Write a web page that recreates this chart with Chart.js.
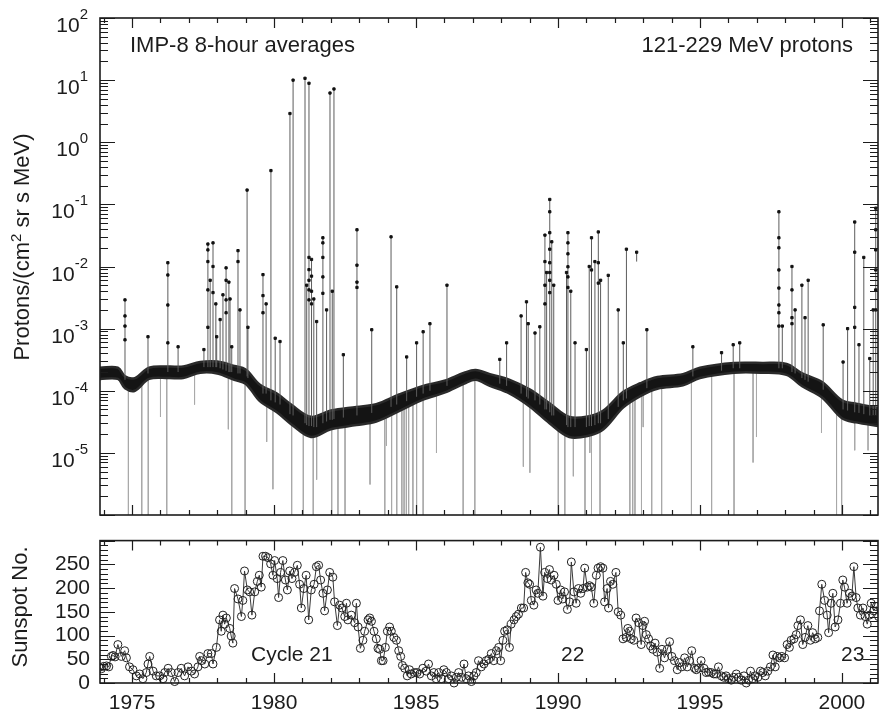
<!DOCTYPE html>
<html>
<head>
<meta charset="utf-8">
<title>IMP-8 121-229 MeV protons and sunspot number</title>
<script src="https://cdn.jsdelivr.net/npm/chart.js@4.4.1/dist/chart.umd.min.js"></script>
<style>
  html, body { margin: 0; padding: 0; background: #fff; }
  #wrap { position: relative; width: 883px; height: 714px; overflow: hidden; }
  canvas { position: absolute; left: 0; }
  #flux { top: 0; }
  #spots { top: 518px; }
</style>
</head>
<body>
<div id="wrap">
  <canvas id="flux" width="883" height="520"></canvas>
  <canvas id="spots" width="883" height="196"></canvas>
</div>
<script>
// shared time axis (decimal years)
const yearMin = 1973.87, yearMax = 2001.27;
const yearLabels = [1975, 1980, 1985, 1990, 1995, 2000];
const decadeLabels = [2, 1, 0, -1, -2, -3, -4, -5];
const sunspotLabels = [0, 50, 100, 150, 200, 250];

// quiet-time background band: [year, lower edge, upper edge]
const band = [
  [1973.87, 1.55e-4, 2.35e-4], [1974.5, 1.55e-4, 2.35e-4], [1974.75, 1.1e-4, 1.7e-4],
  [1975.1, 1.0e-4, 1.6e-4], [1975.6, 1.55e-4, 2.35e-4], [1976.3, 1.6e-4, 2.45e-4],
  [1976.8, 1.6e-4, 2.45e-4], [1977.4, 1.95e-4, 2.9e-4], [1978.0, 1.9e-4, 2.95e-4],
  [1978.6, 1.5e-4, 2.5e-4], [1979.0, 1.3e-4, 2.2e-4], [1979.5, 6.8e-5, 1.25e-4],
  [1980.1, 4.5e-5, 9e-5], [1980.6, 2.9e-5, 6e-5], [1981.3, 1.8e-5, 3.8e-5],
  [1982.0, 2.4e-5, 4.8e-5], [1982.9, 2.8e-5, 5.5e-5], [1983.6, 3.2e-5, 6.1e-5],
  [1984.4, 4.7e-5, 8.7e-5], [1985.25, 7.2e-5, 1.2e-4], [1986.0, 9.3e-5, 1.45e-4],
  [1986.7, 1.3e-4, 1.95e-4], [1987.1, 1.5e-4, 2.15e-4], [1987.6, 1.2e-4, 1.85e-4],
  [1988.3, 9e-5, 1.5e-4], [1989.0, 5.6e-5, 1.05e-4], [1989.7, 3e-5, 6.3e-5],
  [1990.4, 1.8e-5, 3.8e-5], [1991.1, 1.9e-5, 3.9e-5], [1991.6, 2.4e-5, 4.8e-5],
  [1992.3, 5.4e-5, 9.6e-5], [1992.9, 8.2e-5, 1.32e-4], [1993.5, 1.08e-4, 1.66e-4],
  [1994.4, 1.22e-4, 1.85e-4], [1995.0, 1.6e-4, 2.35e-4], [1996.2, 1.95e-4, 2.8e-4],
  [1997.2, 1.95e-4, 2.8e-4], [1998.05, 1.8e-4, 2.7e-4], [1998.6, 1.18e-4, 1.9e-4],
  [1999.3, 7.8e-5, 1.38e-4], [2000.0, 3.6e-5, 7e-5], [2000.5, 3.1e-5, 6.2e-5],
  [2001.27, 2.7e-5, 5.3e-5]
];

// solar particle events: [year, base, peak]
const events = [
  [1974.75, 1.5e-4, 2.9e-3], [1975.56, 1.9e-4, 7.4e-4], [1976.26, 2.0e-4, 1.15e-2],
  [1976.62, 2.0e-4, 5.1e-4], [1977.53, 2.4e-4, 4.6e-4], [1977.67, 2.4e-4, 2.3e-2],
  [1977.75, 2.4e-4, 6e-3], [1977.85, 2.4e-4, 2.4e-2], [1977.95, 2.4e-4, 2.5e-3],
  [1977.98, 2.4e-4, 7.4e-4], [1978.1, 2.3e-4, 1.4e-3], [1978.2, 2.2e-4, 3.5e-3],
  [1978.31, 2.1e-4, 9.5e-3], [1978.41, 2.0e-4, 5.6e-3], [1978.45, 2.0e-4, 3e-3],
  [1978.51, 2.0e-4, 5.1e-4], [1978.73, 1.9e-4, 1.8e-2], [1978.8, 1.9e-4, 2e-3],
  [1979.05, 1.7e-4, 1.7e-1], [1979.08, 1.6e-4, 1.05e-3], [1979.61, 9e-5, 7.4e-3],
  [1979.72, 9e-5, 2.5e-3], [1979.89, 7e-5, 3.5e-1], [1980.04, 6.5e-5, 7e-4],
  [1980.21, 6e-5, 6.2e-4], [1980.56, 4.2e-5, 2.9], [1980.67, 4e-5, 10],
  [1981.09, 3e-5, 10.7], [1981.15, 2.8e-5, 5e-3], [1981.23, 2.7e-5, 8.9],
  [1981.32, 2.7e-5, 1.3e-2], [1981.4, 2.6e-5, 3e-3], [1981.5, 2.6e-5, 1.3e-3],
  [1981.72, 3e-5, 2.9e-2], [1981.85, 3.2e-5, 2e-3], [1981.97, 3.4e-5, 6.2],
  [1982.05, 3.4e-5, 4e-3], [1982.11, 3.5e-5, 7.2], [1982.44, 3.7e-5, 3.8e-4],
  [1982.92, 4e-5, 3.9e-2], [1983.44, 4.4e-5, 9.6e-4], [1984.12, 5.5e-5, 3.0e-2],
  [1984.32, 6e-5, 4.7e-3], [1984.67, 6.8e-5, 3.5e-4], [1985.02, 8e-5, 5.9e-4],
  [1985.25, 9e-5, 8.9e-4], [1985.49, 1e-4, 1.2e-3], [1986.09, 1.2e-4, 5e-3],
  [1987.95, 1.3e-4, 3.2e-4], [1988.19, 1.2e-4, 5.9e-4], [1988.7, 9e-5, 1.6e-3],
  [1988.89, 8e-5, 2.7e-3], [1988.95, 7.5e-5, 1.2e-3], [1989.19, 7e-5, 8.5e-4],
  [1989.36, 6e-5, 1.07e-3], [1989.54, 5e-5, 3.2e-2], [1989.6, 5e-5, 8e-3],
  [1989.71, 4.5e-5, 1.2e-1], [1989.78, 4e-5, 2.5e-2], [1989.85, 4e-5, 5e-3],
  [1990.3, 2.8e-5, 8e-3], [1990.35, 2.6e-5, 3.5e-2], [1990.45, 2.6e-5, 4e-3],
  [1990.6, 2.6e-5, 5.9e-4], [1991.0, 2.6e-5, 4.6e-4], [1991.1, 2.7e-5, 1e-2],
  [1991.18, 2.7e-5, 2.9e-2], [1991.3, 2.8e-5, 1.2e-2], [1991.42, 3e-5, 3.6e-2],
  [1991.5, 3e-5, 6e-3], [1991.77, 3.5e-5, 7.2e-3], [1992.12, 5.5e-5, 2.0e-3],
  [1992.3, 7e-5, 5.9e-4], [1992.41, 7.5e-5, 1.9e-2], [1992.77, 1.2e-2, 1.7e-2],
  [1993.13, 1.1e-4, 9.6e-4], [1994.75, 1.7e-4, 5.1e-4], [1995.76, 2.1e-4, 4.1e-4],
  [1996.17, 2.3e-4, 5.5e-4], [1996.4, 2.3e-4, 5.9e-4], [1997.78, 2.3e-4, 7.6e-2],
  [1997.9, 2.3e-4, 1.1e-3], [1998.24, 2.0e-4, 1.0e-2], [1998.35, 1.9e-4, 2e-3],
  [1998.59, 1.6e-4, 5e-3], [1998.7, 1.5e-4, 1.5e-3], [1998.81, 1.4e-4, 6e-3],
  [1999.34, 1.04e-4, 1.15e-3], [2000.04, 5e-5, 2.9e-4], [2000.2, 4.8e-5, 1e-3],
  [2000.45, 4.5e-5, 5.2e-2], [2000.6, 4.4e-5, 5.5e-4], [2000.77, 4.2e-5, 1.4e-2],
  [2000.98, 4e-5, 3.3e-4], [2001.1, 4e-5, 2e-3], [2001.19, 4e-5, 8.7e-2]
];

// 8-hour points along the event profiles: [year, value]
const eventDots = [
  [1974.75, 1.6e-3], [1974.75, 1.1e-3], [1974.75, 6.6e-4],
  [1976.26, 7.3e-3], [1976.26, 2.4e-3], [1976.26, 5.9e-4],
  [1977.67, 1.85e-2], [1977.67, 1.2e-2], [1977.67, 4.2e-3], [1977.67, 1.05e-3],
  [1977.85, 1e-2], [1977.85, 3.8e-3],
  [1978.31, 6e-3], [1978.31, 2.9e-3], [1978.31, 1.8e-3], [1978.73, 1.2e-2],
  [1979.61, 3.4e-3], [1979.61, 1.8e-3],
  [1981.23, 1.4e-2], [1981.23, 8.9e-3], [1981.23, 6e-3], [1981.23, 4.2e-3], [1981.23, 2.9e-3],
  [1981.32, 7e-3], [1981.32, 4e-3], [1981.32, 2.5e-3],
  [1981.72, 2.4e-2], [1981.72, 1.4e-2], [1981.72, 6.8e-3], [1981.72, 3.7e-3],
  [1982.92, 1.05e-2], [1982.92, 5.6e-3], [1982.92, 4.6e-3],
  [1989.54, 1.2e-2], [1989.54, 5e-3], [1989.54, 2.5e-3],
  [1989.71, 7.6e-2], [1989.71, 3.5e-2], [1989.71, 1.9e-2], [1989.71, 1.15e-2],
  [1989.71, 8e-3], [1989.71, 6e-3], [1989.71, 3.8e-3],
  [1990.35, 2.4e-2], [1990.35, 1.6e-2], [1990.35, 9.9e-3], [1990.35, 6.8e-3], [1990.35, 4.6e-3],
  [1991.18, 8.8e-3], [1991.42, 1.15e-2], [1991.42, 5.4e-3],
  [1997.78, 2.9e-2], [1997.78, 2.0e-2], [1997.78, 8.8e-3], [1997.78, 4.5e-3],
  [1997.78, 2.4e-3], [1997.78, 1.8e-3], [1997.78, 1.1e-3],
  [1998.24, 4.2e-3], [1998.24, 1.5e-3], [1998.24, 1.2e-3],
  [2000.45, 1.7e-2], [2000.45, 2.2e-3], [2000.45, 1.05e-3],
  [2001.19, 3.9e-2], [2001.19, 1.85e-2], [2001.19, 8.8e-3], [2001.19, 4.2e-3], [2001.19, 2e-3]
];

// downward error bars: [year, top, bottom]
const lowBars = [
  [1974.87, 1.3e-4, 1e-6], [1975.34, 1.5e-4, 1e-6], [1975.57, 1.8e-4, 1e-6],
  [1976.0, 1.9e-4, 3.8e-5], [1976.22, 1.9e-4, 1e-6], [1977.2, 2.2e-4, 6e-5],
  [1978.39, 1.9e-4, 2.4e-5], [1978.51, 1.9e-4, 1e-6], [1978.98, 1.6e-4, 1e-6],
  [1979.74, 8e-5, 1.5e-5], [1979.96, 6.5e-5, 2.6e-6], [1980.62, 4e-5, 1e-6],
  [1981.03, 3e-5, 1e-6], [1981.38, 2.5e-5, 1e-6], [1981.5, 2.5e-5, 3.7e-6],
  [1982.03, 3.3e-5, 1e-6], [1982.25, 3.5e-5, 1e-6], [1982.5, 3.6e-5, 1e-6],
  [1983.38, 4.2e-5, 3.1e-6], [1983.9, 5e-5, 1e-6], [1983.96, 5e-5, 1.3e-5],
  [1984.14, 5.5e-5, 1e-6], [1984.32, 6e-5, 1e-6], [1984.5, 6.5e-5, 1e-6],
  [1984.58, 6.5e-5, 1e-6], [1984.66, 7e-5, 1e-6], [1984.74, 7e-5, 1e-6],
  [1984.89, 7.5e-5, 1e-6], [1985.02, 8e-5, 1e-6], [1985.25, 9e-5, 1e-6],
  [1985.72, 1.05e-4, 1e-5], [1986.66, 1.5e-4, 1e-6], [1987.07, 1.7e-4, 1e-6],
  [1988.78, 9e-5, 6e-6], [1989.01, 7.5e-5, 4.8e-6], [1990.01, 3.2e-5, 1e-6],
  [1990.24, 2.8e-5, 1e-6], [1990.54, 2.6e-5, 4.2e-6], [1990.95, 2.6e-5, 1e-6],
  [1991.12, 2.7e-5, 1e-5], [1991.18, 2.7e-5, 1e-6], [1991.48, 3e-5, 1e-6],
  [1992.53, 8e-5, 1e-6], [1992.63, 8.5e-5, 1e-6], [1992.71, 9e-5, 1e-6],
  [1992.94, 1e-4, 1e-6], [1993.0, 1e-4, 2.6e-5], [1993.3, 1.2e-4, 1e-6],
  [1993.65, 1.35e-4, 1e-6], [1994.7, 1.6e-4, 1e-6], [1995.41, 2e-4, 1e-6],
  [1996.2, 2.3e-4, 1e-6], [1996.87, 2.3e-4, 7e-6], [1996.99, 2.3e-4, 1.8e-5],
  [1999.28, 1.05e-4, 2.1e-5], [1999.81, 6e-5, 1e-6], [1999.99, 5e-5, 1e-6],
  [2000.45, 4.5e-5, 1.1e-5], [2000.92, 4e-5, 1.1e-5]
];

// monthly sunspot number: [year, value]
const sunspots = [
  [1973.85,33],[1973.92,30],[1974.0,35],[1974.1,36],[1974.18,34],[1974.27,56],[1974.33,58],
  [1974.4,55],[1974.5,81],[1974.62,56],[1974.74,68],[1974.8,53],[1974.91,34],[1975.03,28],
  [1975.15,15],[1975.27,19],[1975.38,9],[1975.5,22],[1975.56,40],[1975.62,56],[1975.74,25],
  [1975.85,15],[1975.97,15],[1976.09,9],[1976.15,22],[1976.27,31],[1976.38,22],[1976.5,3],
  [1976.62,22],[1976.73,31],[1976.85,15],[1976.97,34],[1977.09,25],[1977.2,19],[1977.32,34],
  [1977.38,56],[1977.44,47],[1977.56,40],[1977.67,62],[1977.79,62],[1977.85,40],[1977.97,75],
  [1978.08,133],[1978.14,109],[1978.2,143],[1978.26,124],[1978.32,137],[1978.44,115],[1978.49,99],
  [1978.55,84],[1978.61,199],[1978.73,177],[1978.85,140],[1978.9,174],[1978.96,236],[1979.06,196],
  [1979.14,192],[1979.22,143],[1979.32,192],[1979.41,214],[1979.48,227],[1979.55,202],[1979.61,267],
  [1979.7,267],[1979.79,264],[1979.88,251],[1979.96,227],[1980.02,258],[1980.11,220],[1980.16,180],
  [1980.23,233],[1980.31,258],[1980.4,217],[1980.47,196],[1980.55,236],[1980.63,220],[1980.72,233],
  [1980.82,248],[1980.9,208],[1980.96,158],[1981.05,199],[1981.13,227],[1981.22,133],[1981.31,196],
  [1981.41,208],[1981.49,245],[1981.57,248],[1981.64,217],[1981.72,189],[1981.78,152],[1981.88,196],
  [1981.96,233],[1982.07,223],[1982.13,171],[1982.23,121],[1982.31,164],[1982.39,158],[1982.49,140],
  [1982.55,168],[1982.6,133],[1982.72,143],[1982.84,127],[1982.9,168],[1982.96,118],[1983.04,73],
  [1983.13,90],[1983.19,109],[1983.31,133],[1983.37,137],[1983.43,130],[1983.52,109],[1983.6,93],
  [1983.66,73],[1983.72,71],[1983.78,47],[1983.84,47],[1983.92,75],[1983.99,109],[1984.07,118],
  [1984.13,109],[1984.22,96],[1984.31,90],[1984.39,68],[1984.46,56],[1984.52,37],[1984.6,31],
  [1984.69,15],[1984.77,28],[1984.83,19],[1984.95,22],[1985.04,22],[1985.13,19],[1985.24,31],
  [1985.36,25],[1985.44,40],[1985.54,15],[1985.63,22],[1985.71,9],[1985.8,22],[1985.89,9],
  [1985.98,28],[1986.07,22],[1986.15,9],[1986.24,15],[1986.34,0],[1986.42,12],[1986.5,22],
  [1986.6,12],[1986.69,40],[1986.77,9],[1986.85,15],[1986.95,3],[1987.04,15],[1987.12,22],
  [1987.2,47],[1987.3,34],[1987.39,40],[1987.47,47],[1987.56,50],[1987.65,62],[1987.74,47],
  [1987.83,68],[1987.91,75],[1987.98,47],[1988.06,90],[1988.12,109],[1988.21,112],[1988.29,75],
  [1988.35,124],[1988.45,133],[1988.53,140],[1988.61,145],[1988.71,158],[1988.79,158],[1988.86,233],
  [1988.94,211],[1989.0,208],[1989.06,174],[1989.15,164],[1989.23,196],[1989.29,189],[1989.38,286],
  [1989.47,183],[1989.53,233],[1989.62,220],[1989.7,239],[1989.76,217],[1989.86,227],[1989.94,208],
  [1990.0,174],[1990.09,196],[1990.17,177],[1990.23,192],[1990.33,155],[1990.41,171],[1990.47,255],
  [1990.56,192],[1990.64,168],[1990.72,199],[1990.8,189],[1990.88,199],[1990.94,242],[1991.03,202],
  [1991.11,205],[1991.17,202],[1991.26,168],[1991.35,227],[1991.41,242],[1991.5,245],[1991.58,242],
  [1991.64,171],[1991.73,199],[1991.78,158],[1991.85,214],[1991.93,208],[1992.04,233],[1992.12,150],
  [1992.21,143],[1992.29,93],[1992.4,96],[1992.46,115],[1992.52,109],[1992.58,93],[1992.67,90],
  [1992.75,137],[1992.84,127],[1992.93,81],[1992.99,121],[1993.05,130],[1993.11,102],[1993.19,93],
  [1993.26,78],[1993.34,71],[1993.42,84],[1993.49,65],[1993.58,31],[1993.66,71],[1993.75,53],
  [1993.85,71],[1993.93,87],[1994.01,56],[1994.1,47],[1994.2,28],[1994.28,43],[1994.36,34],
  [1994.46,53],[1994.55,34],[1994.63,47],[1994.71,68],[1994.81,31],[1994.87,28],[1994.95,31],
  [1995.04,47],[1995.14,31],[1995.22,22],[1995.3,23],[1995.4,22],[1995.49,19],[1995.57,19],
  [1995.65,34],[1995.75,15],[1995.84,12],[1995.92,15],[1996.0,9],[1996.1,6],[1996.19,12],
  [1996.28,19],[1996.36,12],[1996.45,6],[1996.55,15],[1996.63,0],[1996.71,6],[1996.78,25],
  [1996.86,9],[1996.94,15],[1997.04,12],[1997.13,25],[1997.21,22],[1997.3,15],[1997.39,25],
  [1997.48,34],[1997.57,59],[1997.65,34],[1997.72,56],[1997.8,53],[1997.88,56],[1997.98,53],
  [1998.07,81],[1998.15,75],[1998.21,90],[1998.31,93],[1998.39,102],[1998.45,121],[1998.54,133],
  [1998.62,81],[1998.7,96],[1998.8,121],[1998.89,90],[1998.97,106],[1999.06,93],[1999.15,96],
  [1999.21,152],[1999.29,208],[1999.39,174],[1999.48,143],[1999.53,106],[1999.62,168],[1999.68,189],
  [1999.76,118],[1999.86,133],[1999.95,168],[2000.03,217],[2000.09,202],[2000.18,168],[2000.27,189],
  [2000.35,183],[2000.42,245],[2000.5,180],[2000.56,158],[2000.65,143],[2000.74,158],[2000.82,140],
  [2000.89,124],[2000.97,143],[2001.03,168],[2001.12,152],[2001.21,161],[2001.29,140],[2001.34,205]
];

const FONT = '"Liberation Sans", Arial, Helvetica, sans-serif';
const INK = '#1c1c1c';

// vertical segments separated by gaps
function segments(rows) {
  const out = [];
  rows.forEach(r => {
    out.push({x: r[0], y: r[1]}, {x: r[0], y: r[2]}, {x: r[0], y: null});
  });
  return out;
}

// text made of runs of different size / rise (for exponents)
function richText(ctx, parts, x, y, align) {
  let w = 0;
  parts.forEach(p => { ctx.font = p[1] + 'px ' + FONT; w += ctx.measureText(p[0]).width; });
  let cx = align === 'right' ? x - w : align === 'center' ? x - w / 2 : x;
  parts.forEach(p => {
    ctx.font = p[1] + 'px ' + FONT;
    ctx.fillText(p[0], cx, y - (p[2] || 0));
    cx += ctx.measureText(p[0]).width;
  });
}

// box + inward ticks on all four sides, then any extra text
function makeFrame(yMarks, drawText) {
  return {
    id: 'frame',
    afterDatasetsDraw(chart) {
      const {ctx, chartArea: a} = chart;
      const xs = chart.scales.x, ys = chart.scales.y;
      ctx.save();
      ctx.strokeStyle = INK;
      ctx.lineWidth = 1.2;
      ctx.beginPath();
      for (let yr = Math.ceil(xs.min); yr <= xs.max; yr++) {
        const px = Math.round(xs.getPixelForValue(yr)) + 0.5;
        const len = yr % 5 === 0 ? 10 : 5;
        ctx.moveTo(px, a.top); ctx.lineTo(px, a.top + len);
        ctx.moveTo(px, a.bottom); ctx.lineTo(px, a.bottom - len);
      }
      yMarks.forEach(([v, major]) => {
        const py = Math.round(ys.getPixelForValue(v)) + 0.5;
        const len = major ? 15 : 8;
        ctx.moveTo(a.left, py); ctx.lineTo(a.left + len, py);
        ctx.moveTo(a.right, py); ctx.lineTo(a.right - len, py);
      });
      ctx.stroke();
      ctx.lineWidth = 1.6;
      ctx.strokeRect(a.left, a.top, a.right - a.left, a.bottom - a.top);
      ctx.fillStyle = INK;
      ctx.textAlign = 'left';
      ctx.textBaseline = 'alphabetic';
      drawText(ctx, chart);
      ctx.restore();
    }
  };
}

// ---- top panel: proton intensity ----
const logMarks = [];
for (let e = -6; e < 2; e++) {
  for (let m = 1; m <= 9; m++) logMarks.push([m * Math.pow(10, e), m === 1]);
}
logMarks.push([100, true]);

new Chart(document.getElementById('flux'), {
  type: 'line',
  data: {
    datasets: [
      {
        data: eventDots.map(r => ({x: r[0], y: r[1]})),
        showLine: false, pointStyle: 'rect', pointRadius: 1.6,
        pointBackgroundColor: '#111', pointBorderColor: '#111', order: 0
      },
      {
        data: segments(events),
        borderColor: '#5c5c5c', borderWidth: 1,
        pointStyle: 'rect', pointBackgroundColor: '#111', pointBorderColor: '#111',
        pointRadius: c => (c.index % 3 === 1 ? 1.6 : 0),
        spanGaps: false, order: 1
      },
      {
        data: band.map(r => ({x: r[0], y: r[1]})),
        borderColor: '#2a2a2a', borderWidth: 2.5, pointRadius: 0,
        tension: 0.35, fill: false, order: 2
      },
      {
        data: band.map(r => ({x: r[0], y: r[2]})),
        borderColor: '#2a2a2a', borderWidth: 2.5, pointRadius: 0,
        tension: 0.35, fill: '-1', backgroundColor: '#141414', order: 2
      },
      {
        data: segments(lowBars),
        borderColor: '#a9a9a9', borderWidth: 1, pointRadius: 0,
        spanGaps: false, order: 3
      }
    ]
  },
  options: {
    responsive: false, animation: false, devicePixelRatio: 1,
    layout: {padding: {left: 100, right: 5, top: 18, bottom: 5}},
    plugins: {legend: {display: false}, tooltip: {enabled: false}},
    scales: {
      x: {type: 'linear', display: false, min: yearMin, max: yearMax},
      y: {type: 'logarithmic', display: false, min: 1e-6, max: 100}
    }
  },
  plugins: [makeFrame(logMarks, (ctx, chart) => {
    const ys = chart.scales.y;
    decadeLabels.forEach(e => {
      const py = ys.getPixelForValue(Math.pow(10, e));
      const exp = e < 0 ? '-' + (-e) : String(e);
      richText(ctx, [['10', 21, 0], [exp, 15, 13]], 88, py + 14, 'right');
    });
    ctx.font = '22px ' + FONT;
    ctx.fillText('IMP-8 8-hour averages', 130, 52);
    ctx.textAlign = 'right';
    ctx.fillText('121-229 MeV protons', 853, 52);
    ctx.textAlign = 'left';
    ctx.save();
    ctx.translate(29, 247);
    ctx.rotate(-Math.PI / 2);
    richText(ctx, [['Protons/(cm', 22, 0], ['2', 15, 8], [' sr s MeV)', 22, 0]], 0, 0, 'center');
    ctx.restore();
  })]
});

// ---- bottom panel: sunspot number ----
const linMarks = [];
for (let v = 0; v <= 300; v += 10) linMarks.push([v, v % 50 === 0]);

new Chart(document.getElementById('spots'), {
  type: 'line',
  data: {
    datasets: [{
      data: sunspots.map(r => ({x: r[0], y: r[1]})),
      borderColor: '#3a3a3a', borderWidth: 1,
      pointStyle: 'circle', pointRadius: 4,
      pointBorderColor: '#222', pointBorderWidth: 1,
      pointBackgroundColor: 'rgba(0,0,0,0)',
      clip: {left: 0, right: 0, top: 6, bottom: 6}
    }]
  },
  options: {
    responsive: false, animation: false, devicePixelRatio: 1,
    layout: {padding: {left: 0, right: 5, top: 4, bottom: 0}},
    plugins: {legend: {display: false}, tooltip: {enabled: false}},
    scales: {
      x: {
        type: 'linear', min: yearMin, max: yearMax,
        grid: {display: false, drawTicks: false}, border: {display: false},
        ticks: {
          stepSize: 5, includeBounds: false, padding: 8, maxRotation: 0, autoSkip: false,
          color: INK, font: {family: FONT, size: 21},
          callback: v => (yearLabels.includes(v) ? String(v) : '')
        },
        afterFit: s => { s.height = 31; }
      },
      y: {
        type: 'linear', min: 0, max: 300,
        grid: {display: false, drawTicks: false}, border: {display: false},
        ticks: {
          stepSize: 50, padding: 10, autoSkip: false, color: INK, font: {family: FONT, size: 21},
          callback: v => (sunspotLabels.includes(v) ? String(v) : '')
        },
        afterFit: s => { s.width = 100; }
      }
    }
  },
  plugins: [makeFrame(linMarks, ctx => {
    ctx.font = '21px ' + FONT;
    ctx.fillText('Cycle 21', 251, 143);
    ctx.fillText('22', 561, 143);
    ctx.fillText('23', 841, 143);
    ctx.save();
    ctx.translate(27, 89);
    ctx.rotate(-Math.PI / 2);
    ctx.font = '22px ' + FONT;
    ctx.textAlign = 'center';
    ctx.fillText('Sunspot No.', 0, 0);
    ctx.restore();
  })]
});
</script>
</body>
</html>
